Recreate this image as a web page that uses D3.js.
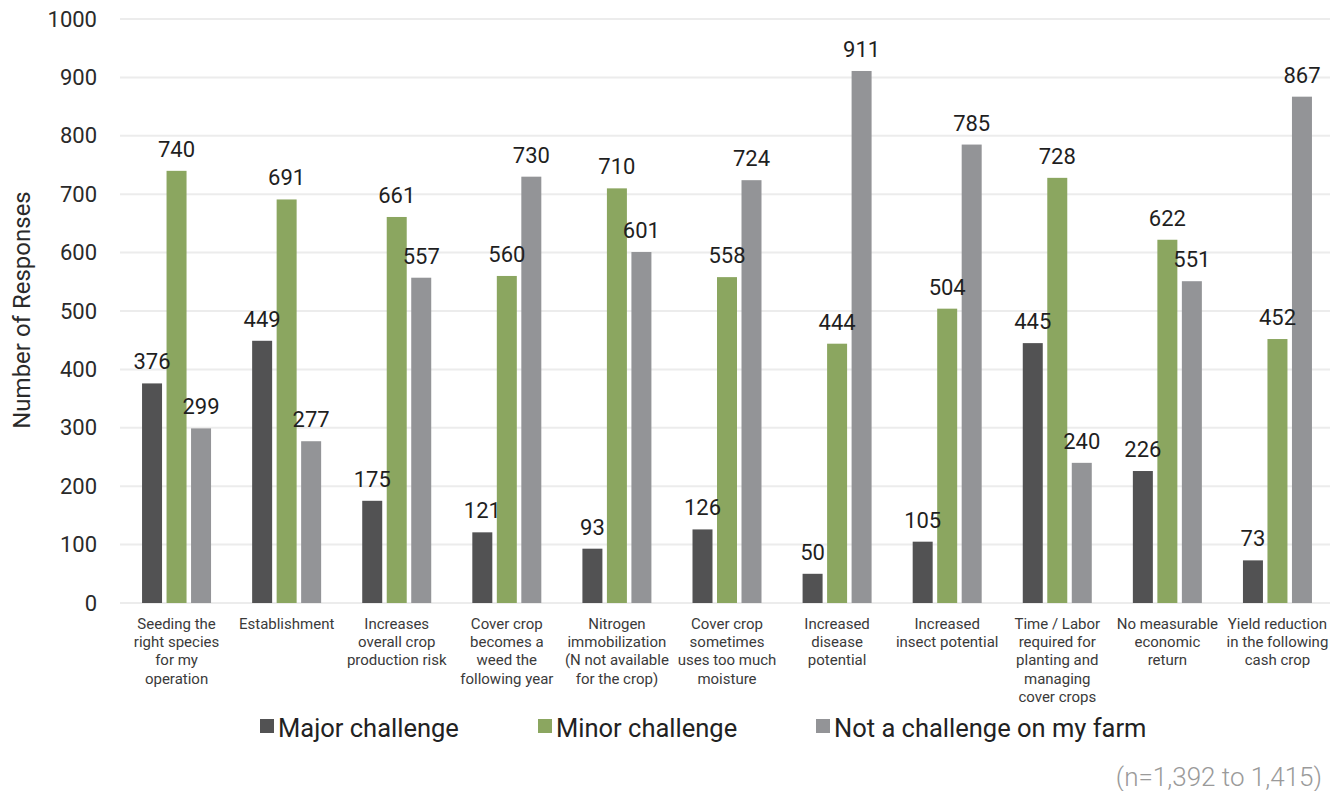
<!DOCTYPE html>
<html>
<head>
<meta charset="utf-8">
<script src="https://cdn.jsdelivr.net/npm/d3@7"></script>
<style>
  body { margin: 0; background: #fff; }
  text { font-family: Roboto, "Liberation Sans", sans-serif; }
</style>
</head>
<body>
<svg id="chart"></svg>
<script>
const width = 1343;
const height = 791;

// categories, one array of lines per label
const categories = [
    ["Seeding the", "right species", "for my", "operation"],
    ["Establishment"],
    ["Increases", "overall crop", "production risk"],
    ["Cover crop", "becomes a", "weed the", "following year"],
    ["Nitrogen", "immobilization", "(N not available", "for the crop)"],
    ["Cover crop", "sometimes", "uses too much", "moisture"],
    ["Increased", "disease", "potential"],
    ["Increased", "insect potential"],
    ["Time / Labor", "required for", "planting and", "managing", "cover crops"],
    ["No measurable", "economic", "return"],
    ["Yield reduction", "in the following", "cash crop"]
];

const seriesNames = ["Major challenge", "Minor challenge", "Not a challenge on my farm"];
const major = [376, 449, 175, 121, 93, 126, 50, 105, 445, 226, 73];
const minor = [740, 691, 661, 560, 710, 558, 444, 504, 728, 622, 452];
const notChallenge = [299, 277, 557, 730, 601, 724, 911, 785, 240, 551, 867];
const yTicks = [0, 100, 200, 300, 400, 500, 600, 700, 800, 900, 1000];

const colors = ["#525253", "#8ba660", "#939497"];
const seriesValues = [major, minor, notChallenge];

const svg = d3.select("#chart")
    .attr("width", width)
    .attr("height", height);

const x = d3.scaleBand()
    .domain(d3.range(categories.length))
    .range([121.5, 1332.5]);

const xInner = d3.scaleBand()
    .domain(d3.range(seriesNames.length))
    .range([-34.5, 34.5])
    .paddingInner(0.184);

const y = d3.scaleLinear()
    .domain([0, 1000])
    .range([603, 19]);

// gridlines
svg.append("g")
    .selectAll("line")
    .data(yTicks)
    .enter().append("line")
    .attr("x1", 120)
    .attr("x2", 1330)
    .attr("y1", d => y(d))
    .attr("y2", d => y(d))
    .style("stroke", "#ececec")
    .style("stroke-width", 2);

// y axis labels
const yAxis = svg.append("g")
    .attr("transform", "translate(97,0)")
    .call(d3.axisLeft(y).tickValues(yTicks).tickFormat(d3.format("d")).tickSize(0).tickPadding(0));
yAxis.select(".domain").remove();
yAxis.selectAll("text")
    .style("font-size", "22px")
    .style("font-family", "Roboto, sans-serif")
    .style("fill", "#2a2a2a");

svg.append("text")
    .attr("transform", "translate(30,310) rotate(-90)")
    .attr("text-anchor", "middle")
    .style("font-size", "24px")
    .style("fill", "#2a2a2a")
    .text("Number of Responses");

// bars
const groups = svg.append("g")
    .selectAll("g")
    .data(categories)
    .enter().append("g")
    .attr("transform", (d, i) => "translate(" + (x(i) + x.bandwidth() / 2) + ",0)");

groups.each(function(c, i) {
    const g = d3.select(this);
    seriesValues.forEach((vals, s) => {
        g.append("rect")
            .attr("x", xInner(s))
            .attr("width", xInner.bandwidth())
            .attr("y", y(vals[i]))
            .attr("height", y(0) - y(vals[i]))
            .style("fill", colors[s]);
    });
    seriesValues.forEach((vals, s) => {
        g.append("text")
            .attr("x", xInner(s) + xInner.bandwidth() / 2)
            .attr("y", y(vals[i]) - 14)
            .attr("text-anchor", "middle")
            .style("font-size", "22px")
            .style("fill", "#1f1f1f")
            .text(vals[i]);
    });
    // category label
    const t = g.append("text")
        .attr("text-anchor", "middle")
        .style("font-size", "15px")
        .style("fill", "#3a3a3a");
    c.forEach((line, k) => {
        t.append("tspan")
            .attr("x", 0)
            .attr("y", 629 + k * 18.2)
            .text(line);
    });
});

// legend
const legend = svg.append("g")
    .selectAll("g")
    .data(seriesNames)
    .enter().append("g")
    .attr("transform", (d, i) => "translate(" + (260 + i * 278) + ",719)");

legend.append("rect")
    .attr("width", 14)
    .attr("height", 14)
    .style("fill", (d, i) => colors[i]);

legend.append("text")
    .attr("x", 18)
    .attr("y", 18)
    .style("font-size", "25.5px")
    .style("fill", "#222")
    .text(d => d);

svg.append("text")
    .attr("x", 1322)
    .attr("y", 786)
    .attr("text-anchor", "end")
    .style("font-size", "26px")
    .style("font-weight", 300)
    .style("fill", "#9a9a9a")
    .text("(n=1,392 to 1,415)");
</script>
</body>
</html>
